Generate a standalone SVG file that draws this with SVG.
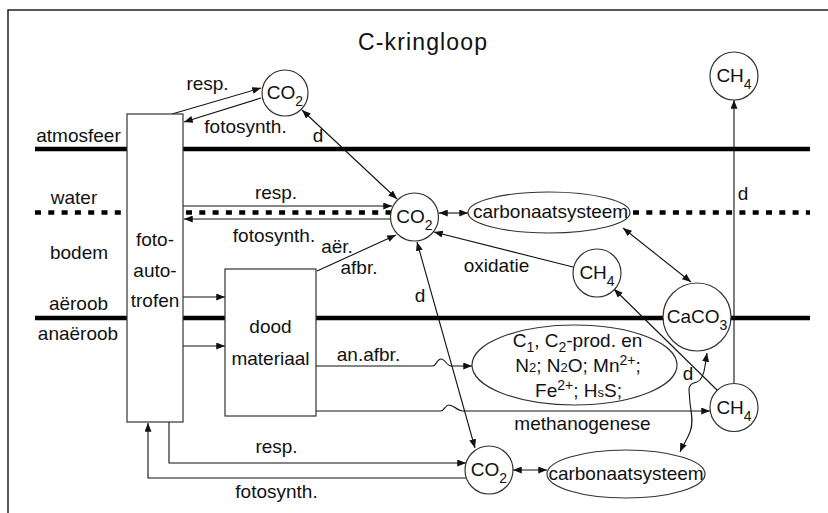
<svg xmlns="http://www.w3.org/2000/svg" width="828" height="513" viewBox="0 0 828 513">
  <defs>
    <marker id="ah" viewBox="0 0 10 8" refX="10" refY="4" markerWidth="9" markerHeight="7" markerUnits="userSpaceOnUse" orient="auto-start-reverse">
      <path d="M0,0 L10,4 L0,8 z" fill="#111"/>
    </marker>
    <style>
      text { font-family: "Liberation Sans", Arial, sans-serif; font-size: 19px; fill: #111; }
      .title { font-size: 23px; }
      .sub { font-size: 14px; }
      .small { font-size: 13px; }
      .layer { stroke: #000; stroke-width: 4.5; fill: none; }
      .dots { stroke: #000; stroke-width: 4.5; fill: none; stroke-dasharray: 6 7.3; }
      .frame { stroke: #222; stroke-width: 1.5; fill: none; }
      .c { stroke: #111; stroke-width: 1.1; fill: none; }
      .arr { marker-end: url(#ah); }
      .both { marker-start: url(#ah); marker-end: url(#ah); }
      .node { stroke: #333; stroke-width: 1.2; fill: #fff; }
    </style>
  </defs>

  <rect width="828" height="513" fill="#fff"/>

  <!-- frame -->
  <path class="frame" d="M8,513 V10 H828"/>

  <!-- title -->
  <text class="title" x="422.5" y="50" text-anchor="middle" textLength="129">C-kringloop</text>

  <!-- compartment boundaries -->
  <g id="layers">
    <line class="layer" x1="35" y1="149" x2="810" y2="149"/>
    <line class="dots" x1="35" y1="212.5" x2="125" y2="212.5"/>
    <line class="dots" x1="186" y1="212.5" x2="392" y2="212.5"/>
    <line class="dots" x1="633" y1="212.5" x2="810" y2="212.5"/>
    <line class="layer" x1="35" y1="318" x2="810" y2="318"/>
    <text x="78.5" y="142" text-anchor="middle">atmosfeer</text>
    <text x="74" y="204" text-anchor="middle">water</text>
    <text x="79" y="259" text-anchor="middle">bodem</text>
    <text x="78.5" y="310" text-anchor="middle">aëroob</text>
    <text x="78" y="340" text-anchor="middle">anaëroob</text>
  </g>

  <!-- connectors -->
  <g id="connectors">
    <line class="c arr" x1="172" y1="114" x2="261" y2="88"/>
    <line class="c arr" x1="261" y1="98" x2="184" y2="122"/>
    <line class="c both" x1="302" y1="110" x2="397" y2="199"/>
    <line class="c arr" x1="183" y1="206" x2="392" y2="206"/>
    <line class="c arr" x1="391" y1="219" x2="184" y2="219"/>
    <line class="c both" x1="439" y1="213" x2="468" y2="213"/>
    <line class="c arr" x1="317" y1="271" x2="396" y2="235"/>
    <line class="c arr" x1="573" y1="267" x2="434" y2="232"/>
    <line class="c both" x1="417" y1="242" x2="475" y2="448"/>
    <line class="c both" x1="623" y1="228" x2="691" y2="282"/>
    <line class="c arr" x1="717" y1="390" x2="614" y2="289"/>
    <line class="c arr" x1="734" y1="383" x2="734" y2="100"/>
    <line class="c arr" x1="183" y1="297" x2="225" y2="297"/>
    <line class="c arr" x1="183" y1="346" x2="225" y2="346"/>
    <path class="c arr" d="M316,366 H433 C436,366 437,359 441,359 C445,359 447,366 451,366 H472"/>
    <path class="c arr" d="M316,411 H441 C444,411 445,405 449,405 C454,405 457,411 463,411 H710"/>
    <polyline class="c arr" points="169,422 169,463 466,463"/>
    <polyline class="c arr" points="467,478 148,478 148,423"/>
    <line class="c both" x1="513" y1="470" x2="547" y2="470"/>
    <path class="c both" d="M680,452 C683,445 687,440 690,432 C694,422 691,412 690,403 L689,390 C689,384 693,383 697,382 C702,380 704,374 705,366 L707,353"/>

    <text x="207.5" y="90" text-anchor="middle">resp.</text>
    <text x="245.5" y="133" text-anchor="middle">fotosynth.</text>
    <text x="318" y="142" text-anchor="middle">d</text>
    <text x="276" y="199" text-anchor="middle">resp.</text>
    <text x="274" y="242" text-anchor="middle">fotosynth.</text>
    <text x="337" y="253" text-anchor="middle">aër.</text>
    <text x="359" y="274" text-anchor="middle">afbr.</text>
    <text x="743" y="200" text-anchor="middle">d</text>
    <text x="496.5" y="272" text-anchor="middle">oxidatie</text>
    <text x="420" y="302" text-anchor="middle">d</text>
    <text x="368.5" y="361" text-anchor="middle">an.afbr.</text>
    <text x="582.5" y="430" text-anchor="middle">methanogenese</text>
    <text x="688" y="380" text-anchor="middle">d</text>
    <text x="276.5" y="453" text-anchor="middle">resp.</text>
    <text x="276.5" y="498" text-anchor="middle">fotosynth.</text>
  </g>

  <!-- nodes -->
  <g id="foto-autotrofen">
    <rect class="node" x="127" y="114" width="56" height="308"/>
    <text x="155" y="246" text-anchor="middle">foto-</text>
    <text x="155" y="277" text-anchor="middle">auto-</text>
    <text x="155" y="307" text-anchor="middle">trofen</text>
  </g>

  <g id="dood-materiaal">
    <rect class="node" x="225" y="269" width="91" height="147"/>
    <text x="270.5" y="333" text-anchor="middle">dood</text>
    <text x="270.5" y="365" text-anchor="middle">materiaal</text>
  </g>

  <g id="co2-atmosfeer">
    <circle class="node" cx="285" cy="93" r="23"/>
    <text x="285" y="99" text-anchor="middle">CO<tspan class="sub" dy="7">2</tspan></text>
  </g>

  <g id="co2-water">
    <circle class="node" cx="414.5" cy="217" r="24"/>
    <text x="414.5" y="223" text-anchor="middle">CO<tspan class="sub" dy="7">2</tspan></text>
  </g>

  <g id="carbonaat-water">
    <ellipse class="node" cx="549" cy="212.5" rx="81" ry="20.5"/>
    <text x="550.5" y="218" text-anchor="middle">carbonaatsysteem</text>
  </g>

  <g id="ch4-atmosfeer">
    <circle class="node" cx="734" cy="76" r="24"/>
    <text x="734" y="82" text-anchor="middle">CH<tspan class="sub" dy="7">4</tspan></text>
  </g>

  <g id="ch4-bodem">
    <circle class="node" cx="597" cy="273" r="24"/>
    <text x="597" y="279" text-anchor="middle">CH<tspan class="sub" dy="7">4</tspan></text>
  </g>

  <g id="caco3">
    <circle class="node" cx="697" cy="317" r="34"/>
    <text x="697" y="323" text-anchor="middle">CaCO<tspan class="sub" dy="7">3</tspan></text>
  </g>

  <g id="producten">
    <ellipse class="node" cx="574.5" cy="365" rx="102.5" ry="40"/>
    <text x="577.5" y="347" text-anchor="middle">C<tspan class="sub" dy="5">1</tspan><tspan dy="-5">, C</tspan><tspan class="sub" dy="5">2</tspan><tspan dy="-5">-prod. en</tspan></text>
    <text x="578" y="372" text-anchor="middle">N<tspan class="small">2</tspan>; N<tspan class="small">2</tspan>O; Mn<tspan class="sub" dy="-7">2+</tspan><tspan dy="7">;</tspan></text>
    <text x="578.5" y="397" text-anchor="middle">Fe<tspan class="sub" dy="-7">2+</tspan><tspan dy="7">; H</tspan><tspan class="small">s</tspan>S;</text>
  </g>

  <g id="ch4-anaeroob">
    <circle class="node" cx="734" cy="407.5" r="24"/>
    <text x="734" y="413.5" text-anchor="middle">CH<tspan class="sub" dy="7">4</tspan></text>
  </g>

  <g id="co2-anaeroob">
    <circle class="node" cx="489" cy="470" r="24"/>
    <text x="489" y="476" text-anchor="middle">CO<tspan class="sub" dy="7">2</tspan></text>
  </g>

  <g id="carbonaat-anaeroob">
    <ellipse class="node" cx="626" cy="474" rx="79" ry="24"/>
    <text x="626" y="480" text-anchor="middle">carbonaatsysteem</text>
  </g>
</svg>
